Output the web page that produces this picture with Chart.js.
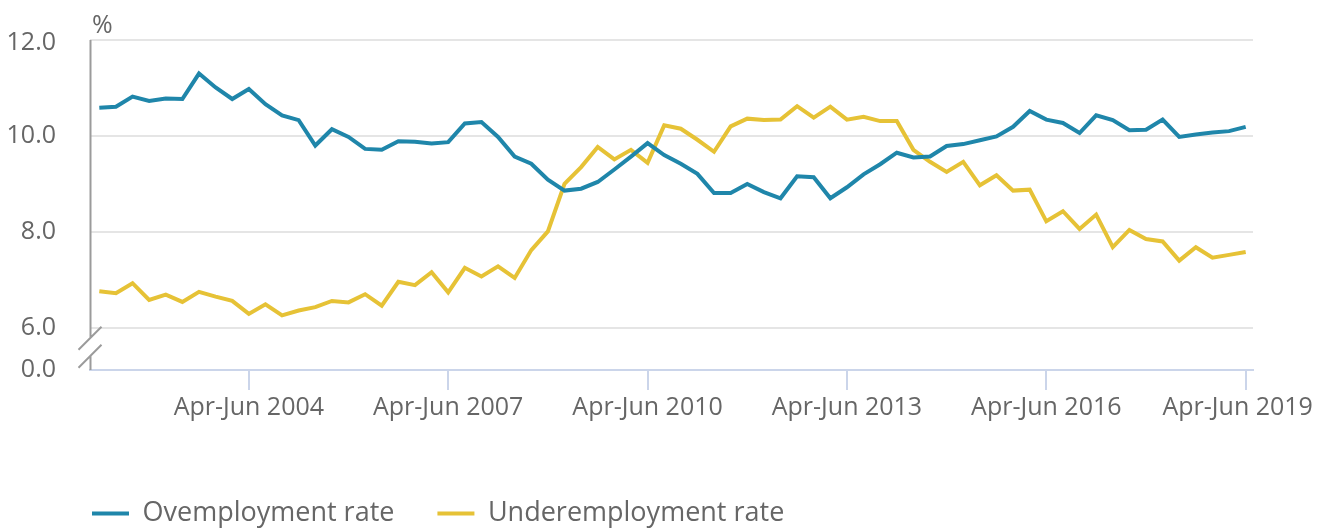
<!DOCTYPE html>
<html>
<head>
<meta charset="utf-8">
<script src="https://cdn.jsdelivr.net/npm/chart.js@4.4.0/dist/chart.umd.min.js"></script>
<style>
  html, body { margin: 0; padding: 0; background: #fff; }
  #wrap { width: 1321px; height: 530px; }
</style>
</head>
<body>
<div id="wrap"><canvas id="rateChart"></canvas></div>
<script>
// Quarterly rates, Jan-Mar 2002 to Apr-Jun 2019
const years = [2002, 2003, 2004, 2005, 2006, 2007, 2008, 2009, 2010,
               2011, 2012, 2013, 2014, 2015, 2016, 2017, 2018, 2019];
const quarterNames = ['Jan-Mar', 'Apr-Jun', 'Jul-Sep', 'Oct-Dec'];
const quarters = [];
years.forEach(y => quarterNames.forEach(q => quarters.push(q + ' ' + y)));
quarters.length = 70;

const overemployment = [
  10.59, 10.61, 10.82, 10.73, 10.78, 10.77, 11.30, 11.01, 10.77, 10.98,
  10.66, 10.43, 10.33, 9.80, 10.14, 9.98, 9.73, 9.71, 9.89, 9.88,
  9.84, 9.87, 10.26, 10.29, 9.98, 9.57, 9.42, 9.09, 8.86, 8.90,
  9.04, 9.30, 9.57, 9.85, 9.60, 9.42, 9.21, 8.81, 8.81, 9.00,
  8.83, 8.70, 9.16, 9.14, 8.70, 8.93, 9.20, 9.41, 9.65, 9.55,
  9.57, 9.79, 9.83, 9.91, 9.99, 10.19, 10.52, 10.34, 10.27, 10.06,
  10.43, 10.33, 10.12, 10.13, 10.34, 9.98, 10.03, 10.07, 10.10, 10.19
];
const underemployment = [
  6.76, 6.72, 6.93, 6.58, 6.69, 6.54, 6.75, 6.65, 6.56, 6.29,
  6.49, 6.26, 6.36, 6.43, 6.56, 6.53, 6.70, 6.46, 6.96, 6.89,
  7.16, 6.74, 7.25, 7.07, 7.28, 7.04, 7.62, 8.01, 9.00, 9.35,
  9.77, 9.51, 9.71, 9.44, 10.22, 10.15, 9.92, 9.67, 10.20, 10.36,
  10.33, 10.34, 10.62, 10.38, 10.61, 10.34, 10.40, 10.31, 10.31, 9.71,
  9.46, 9.25, 9.46, 8.97, 9.18, 8.86, 8.88, 8.22, 8.43, 8.06,
  8.36, 7.68, 8.04, 7.85, 7.80, 7.40, 7.68, 7.46, 7.52, 7.58
];

// labelled x ticks (every Apr-Jun from 2004) and y ticks; 5.12 is the broken-axis "0.0"
const xTickIndex = [9, 21, 33, 45, 57, 69];
const yTicks = [5.12, 6, 8, 10, 12];

const blue = '#1f86aa';
const yellow = '#e6c236';
const textGrey = '#666666';

const toPoints = arr => arr.map((v, i) => ({ x: i, y: v }));

// y axis line with a break between 0.0 and 6.0, plus the "%" unit
const axisBreak = {
  id: 'axisBreak',
  beforeDraw(chart) {
    // nudge the edge labels the way the original keeps them inside the frame
    const xi = chart.scales.x.getLabelItems();
    const yi = chart.scales.y.getLabelItems();
    if (!xi._nudged) {
      xi[xi.length - 1].options.translation[0] -= 8;
      xi._nudged = true;
    }
    if (!yi._nudged) {
      yi[yi.length - 1].options.translation[1] += 3;
      yi._nudged = true;
    }
  },
  afterDraw(chart) {
    const { ctx, chartArea } = chart;
    const x0 = chartArea.left + 0.5;
    const y6 = chart.scales.y.getPixelForValue(6);
    const b1 = y6 + 10, b2 = y6 + 28;
    ctx.save();
    ctx.strokeStyle = '#9b9b9b';
    ctx.lineWidth = 2;
    ctx.beginPath();
    ctx.moveTo(x0, chartArea.top); ctx.lineTo(x0, b1);
    ctx.moveTo(x0, b2); ctx.lineTo(x0, chartArea.bottom);
    [b1, b2].forEach(c => { ctx.moveTo(x0 - 12, c + 12); ctx.lineTo(x0 + 11, c - 11); });
    ctx.stroke();
    ctx.fillStyle = textGrey;
    ctx.font = '25px "Open Sans"';
    ctx.textBaseline = 'middle';
    ctx.fillText('%', chartArea.left + 2, 26);
    ctx.restore();
  }
};

// move legend to line up under the plot
const legendShift = {
  id: 'legendShift',
  afterLayout(chart) {
    const lg = chart.legend;
    lg.left += 49; lg.right += 49;
    lg.top += 7; lg.bottom += 7;
  }
};

const ctx = document.getElementById('rateChart');
new Chart(ctx, {
  type: 'line',
  data: {
    datasets: [{
      label: 'Ovemployment rate',
      data: toPoints(overemployment),
      borderColor: blue,
      backgroundColor: blue,
      borderWidth: 4,
      pointRadius: 0,
      tension: 0
    }, {
      label: 'Underemployment rate',
      data: toPoints(underemployment),
      borderColor: yellow,
      backgroundColor: yellow,
      borderWidth: 4,
      pointRadius: 0,
      tension: 0
    }]
  },
  options: {
    responsive: true,
    maintainAspectRatio: false,
    animation: false,
    layout: { padding: { top: 40, right: 68, left: 0, bottom: 0 } },
    plugins: {
      tooltip: { enabled: false },
      legend: {
        position: 'bottom',
        align: 'start',
        labels: {
          boxWidth: 37,
          boxHeight: 4,
          padding: 43,
          color: textGrey,
          font: { family: 'Open Sans', size: 27 },
          generateLabels: chart =>
            Chart.defaults.plugins.legend.labels.generateLabels(chart)
              .map(l => ({ ...l, lineWidth: 0, strokeStyle: 'rgba(0,0,0,0)' }))
        }
      }
    },
    scales: {
      x: {
        type: 'linear',
        min: -0.56,
        max: 69.44,
        afterBuildTicks: scale => { scale.ticks = xTickIndex.map(v => ({ value: v })); },
        afterFit: scale => { scale.height = 80; scale.paddingLeft = 0; scale.paddingRight = 0; },
        ticks: {
          autoSkip: false,
          maxRotation: 0,
          padding: 3,
          color: textGrey,
          font: { family: 'Open Sans', size: 25 },
          callback: v => quarters[v]
        },
        grid: { drawOnChartArea: false, tickLength: 20, color: '#cbd5ea', lineWidth: 2 },
        border: { color: '#cbd5ea', width: 2 }
      },
      y: {
        min: 5.12,
        max: 12,
        afterBuildTicks: scale => { scale.ticks = yTicks.map(v => ({ value: v })); },
        afterFit: scale => { scale.width = 90; scale.paddingTop = 0; scale.paddingBottom = 0; },
        ticks: {
          padding: 34,
          color: textGrey,
          font: { family: 'Open Sans', size: 25 },
          callback: v => (v < 6 ? '0.0' : v.toFixed(1))
        },
        grid: {
          drawTicks: false,
          lineWidth: 2,
          color: c => (c.tick && c.tick.value < 6 ? 'rgba(0,0,0,0)' : '#e5e5e5')
        },
        border: { display: false }
      }
    }
  },
  plugins: [axisBreak, legendShift]
});
</script>
</body>
</html>
